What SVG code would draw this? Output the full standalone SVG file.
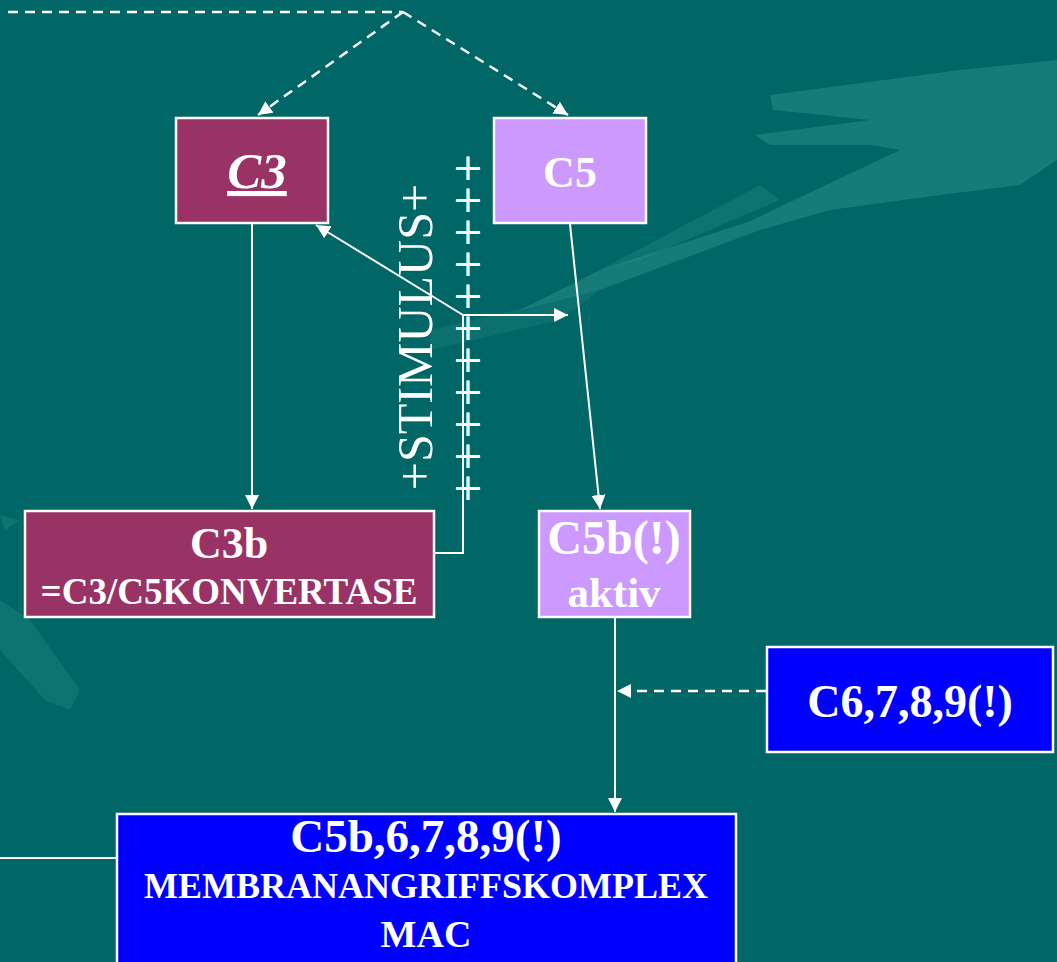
<svg xmlns="http://www.w3.org/2000/svg" width="1057" height="962" viewBox="0 0 1057 962">
<defs>
<style>
.node{stroke:#fff;stroke-width:2.5}
.t{font-family:"Liberation Serif","Times New Roman",serif;font-weight:bold;fill:#fff;text-anchor:middle}
.ln{stroke:#fff;stroke-width:2;fill:none}
.ds{stroke:#fff;stroke-width:2.5;fill:none;stroke-dasharray:10 7}
.plus{font-family:"DejaVu Sans",sans-serif;font-size:38px;fill:#fff;text-anchor:middle}
</style>
<marker id="ah" viewBox="0 0 10 10" refX="10" refY="5" markerWidth="14" markerHeight="14" markerUnits="userSpaceOnUse" orient="auto">
<path d="M0,0 L10,5 L0,10 Z" fill="#fff"/>
</marker>
</defs>
<rect width="1057" height="962" fill="#006666"/>
<g id="bg" fill="#3a9a90">
<path d="M770,95 L960,70 L1057,60 L1057,160 L1020,185 L940,195 L830,210 L760,230 L600,290 L520,310 L600,270 L748,222 L900,150 L872,145 L770,145 L755,135 L870,120 L773,110 Z" opacity="0.4"/>
<path d="M600,270 L760,185 L780,200 L640,260 Z" opacity="0.25"/>
<path d="M0,515 L20,520 L5,530 Z M0,600 L30,620 L80,690 L70,710 L45,700 L0,650 Z" opacity="0.25"/>
<path d="M430,330 L600,290 L560,320 L430,350 Z" opacity="0.2"/>
</g>
<g id="connectors">
<polyline class="ds" points="8,12 403,12"/>
<line class="ds" x1="403" y1="12" x2="258" y2="115" marker-end="url(#ah)"/>
<line class="ds" x1="403" y1="12" x2="568" y2="115" marker-end="url(#ah)"/>
<line class="ln" x1="252" y1="224" x2="252" y2="509" marker-end="url(#ah)"/>
<line class="ln" x1="570" y1="224" x2="600" y2="509" marker-end="url(#ah)"/>
<polyline class="ln" points="435,553 463,553 463,315"/>
<line class="ln" x1="463" y1="315" x2="568" y2="315" marker-end="url(#ah)"/>
<line class="ln" x1="463" y1="315" x2="316" y2="225" marker-end="url(#ah)"/>
<line class="ln" x1="615" y1="618" x2="615" y2="812" marker-end="url(#ah)"/>
<line class="ds" x1="766" y1="691" x2="617" y2="691" marker-end="url(#ah)"/>
<line class="ln" x1="0" y1="858" x2="117" y2="858"/>
</g>
<g id="stimulus">
<text class="plus" x="468" y="180">+</text>
<text class="plus" x="468" y="212">+</text>
<text class="plus" x="468" y="244">+</text>
<text class="plus" x="468" y="276">+</text>
<text class="plus" x="468" y="308">+</text>
<text class="plus" x="468" y="340">+</text>
<text class="plus" x="468" y="372">+</text>
<text class="plus" x="468" y="404">+</text>
<text class="plus" x="468" y="436">+</text>
<text class="plus" x="468" y="468">+</text>
<text class="plus" x="468" y="500">+</text>
<text transform="translate(432,337) rotate(-90)" font-family="Liberation Serif, Times New Roman, serif" font-size="50" fill="#fff" text-anchor="middle">+STIMULUS+</text>
</g>
<g id="C3">
<rect class="node" x="176" y="118" width="152" height="105" fill="#993366"/>
<text class="t" x="257" y="188" font-size="51" font-style="italic" text-decoration="underline">C3</text>
</g>
<g id="C5">
<rect class="node" x="494" y="118" width="152" height="105" fill="#CC99FF"/>
<text class="t" x="570" y="187" font-size="44">C5</text>
</g>
<g id="C3b">
<rect class="node" x="25" y="511" width="409" height="106" fill="#993366"/>
<text class="t" x="229" y="558" font-size="44">C3b</text>
<text class="t" x="229" y="604" font-size="37">=C3/C5KONVERTASE</text>
</g>
<g id="C5b">
<rect class="node" x="539" y="511" width="151" height="106" fill="#CC99FF"/>
<text class="t" x="614" y="554" font-size="48">C5b(!)</text>
<text class="t" x="614" y="607" font-size="43">aktiv</text>
</g>
<g id="C6789">
<rect class="node" x="767" y="647" width="286" height="105" fill="#0000FF"/>
<text class="t" x="910" y="717" font-size="46">C6,7,8,9(!)</text>
</g>
<g id="MAC">
<rect class="node" x="117" y="814" width="619" height="152" fill="#0000FF"/>
<text class="t" x="426" y="852" font-size="47">C5b,6,7,8,9(!)</text>
<text class="t" x="426" y="898" font-size="36">MEMBRANANGRIFFSKOMPLEX</text>
<text class="t" x="426" y="947" font-size="38">MAC</text>
</g>
</svg>
